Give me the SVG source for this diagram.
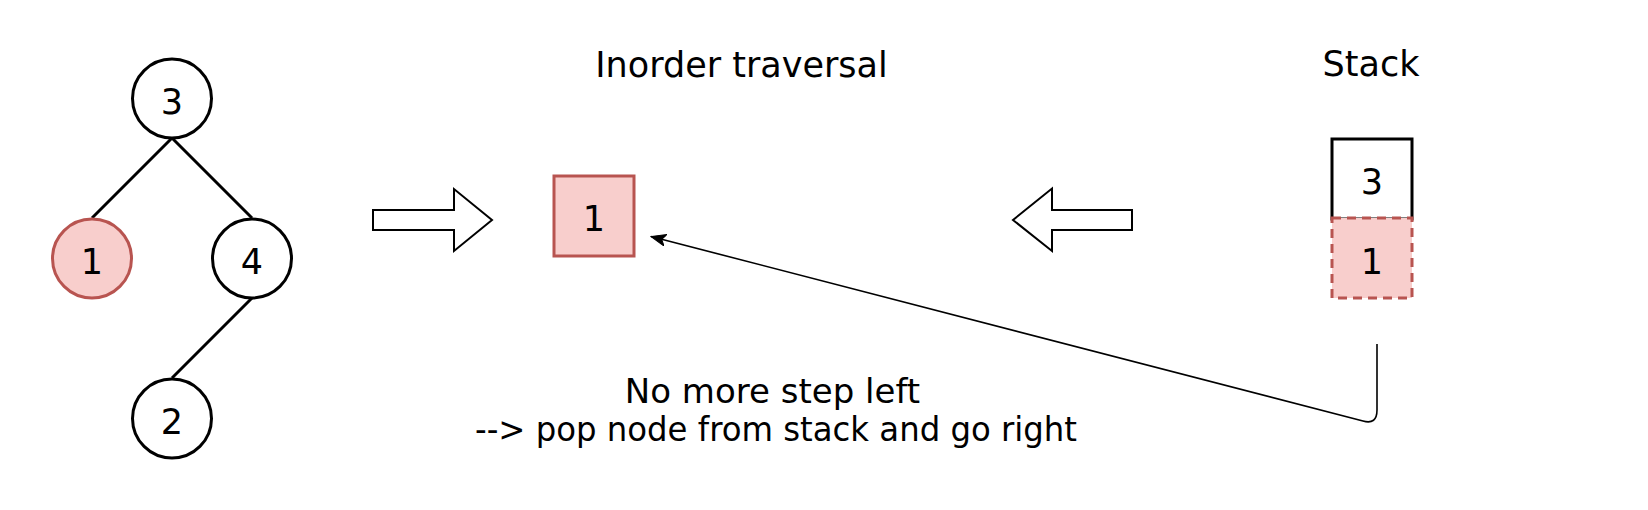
<svg xmlns="http://www.w3.org/2000/svg" width="1648" height="510" viewBox="0 0 1648 510">
  <style>
    text { font-family: "DejaVu Sans", "Liberation Sans", sans-serif; font-size: 35px; fill: #000; text-anchor: middle; }
    .circ { fill: #fff; stroke: #000; stroke-width: 3; }
    .circ-red { fill: #f8cecc; stroke: #b85450; stroke-width: 3; }
    .edge { stroke: #000; stroke-width: 3; fill: none; }
    .block { fill: #fff; stroke: #000; stroke-width: 2; stroke-linejoin: miter; }
    .box { fill: #fff; stroke: #000; stroke-width: 3; }
    .box-red { fill: #f8cecc; stroke: #b85450; stroke-width: 3; }
    .dashed { stroke-dasharray: 9 6; }
    .conn { fill: none; stroke: #000; stroke-width: 1.6; }
  </style>
  <defs>
    <marker id="arrow" markerUnits="userSpaceOnUse" markerWidth="16" markerHeight="12" refX="15" refY="6" orient="auto">
      <path d="M0,0 L15,6 L0,12 L4,6 z" fill="#000" stroke="#000" stroke-width="1"/>
    </marker>
  </defs>

  <rect width="1648" height="510" fill="#fff"/>

  <!-- tree edges -->
  <g id="tree-edges">
    <line class="edge" x1="172" y1="138" x2="92" y2="218"/>
    <line class="edge" x1="172" y1="138" x2="252" y2="218"/>
    <line class="edge" x1="252" y1="298" x2="172" y2="378"/>
  </g>

  <g id="node-3">
    <circle class="circ" cx="172" cy="98.5" r="39.5"/>
    <text x="172" y="114">3</text>
  </g>
  <g id="node-1">
    <circle class="circ-red" cx="92" cy="258.5" r="39.5"/>
    <text x="92" y="274">1</text>
  </g>
  <g id="node-4">
    <circle class="circ" cx="252" cy="258.5" r="39.5"/>
    <text x="252" y="274">4</text>
  </g>
  <g id="node-2">
    <circle class="circ" cx="172" cy="418.5" r="39.5"/>
    <text x="172" y="434">2</text>
  </g>

  <g id="arrow-right">
    <polygon class="block" points="373,210 454,210 454,189 492,220 454,251 454,230 373,230"/>
  </g>

  <g id="title-inorder">
    <text x="741.5" y="77">Inorder traversal</text>
  </g>

  <g id="inorder-1">
    <rect class="box-red" x="554" y="176" width="80" height="80"/>
    <text x="594" y="231">1</text>
  </g>

  <g id="arrow-left">
    <polygon class="block" points="1132,210 1052,210 1052,188.5 1013,220 1052,251 1052,230 1132,230"/>
  </g>

  <g id="title-stack">
    <text x="1371" y="76">Stack</text>
  </g>

  <g id="stack-3">
    <rect class="box" x="1332" y="139" width="80" height="80"/>
    <text x="1372" y="194">3</text>
  </g>
  <g id="stack-1">
    <rect class="box-red dashed" x="1332" y="218" width="80" height="80"/>
    <text x="1372" y="274">1</text>
  </g>

  <g id="connectors">
    <path class="conn" d="M1377,344 L1377,410 Q1377,425 1363,421 L651,236.5" marker-end="url(#arrow)"/>
  </g>

  <g id="caption">
    <text x="772.5" y="403" font-size="34" style="font-size:34px">No more step left</text>
    <text x="776" y="441" style="font-size:34px" textLength="602" lengthAdjust="spacingAndGlyphs">--&gt; pop node from stack and go right</text>
  </g>
</svg>
